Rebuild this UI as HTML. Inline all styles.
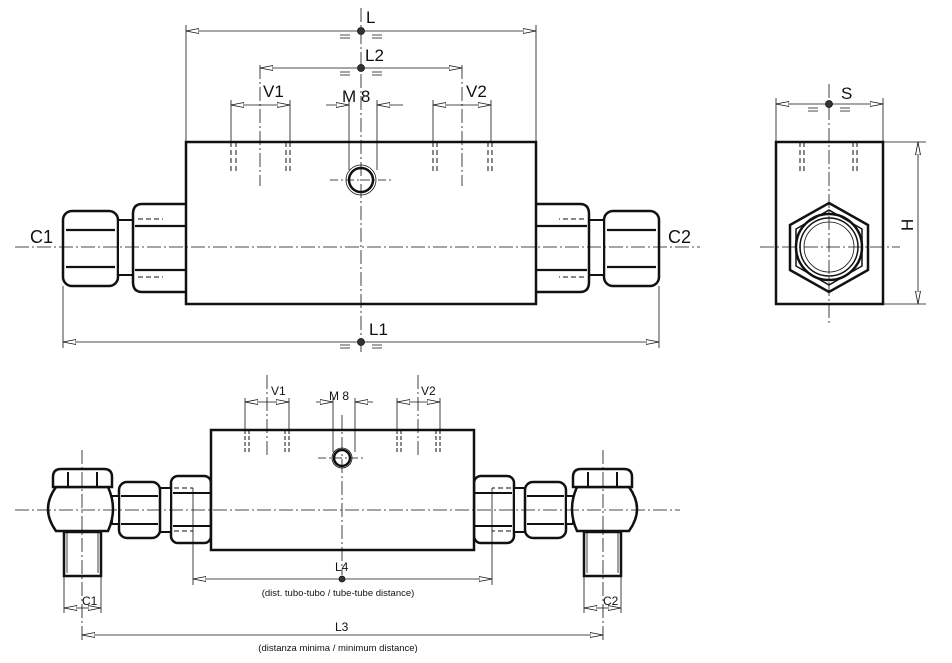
<!DOCTYPE html>
<html><head><meta charset="utf-8"><style>
html,body{margin:0;padding:0;background:#fff}
svg{display:block}
text{font-family:"Liberation Sans",sans-serif;fill:#111}
</style></head><body>
<svg width="952" height="663" viewBox="0 0 952 663" xmlns="http://www.w3.org/2000/svg">
<defs>
<marker id="a" viewBox="0 0 14 6" refX="13" refY="3" markerWidth="14" markerHeight="6" markerUnits="userSpaceOnUse" orient="auto-start-reverse">
<path d="M13,3 L0,0.5 L0,5.5 Z" fill="#fff" stroke="#111" stroke-width="0.8"/>
</marker>
<g id="nutL">
<rect x="63" y="211" width="55" height="75" rx="9" fill="#fff" stroke="#111" stroke-width="2.5"/>
<line x1="66" y1="230" x2="115" y2="230" stroke="#111" stroke-width="2.2"/>
<line x1="66" y1="267" x2="115" y2="267" stroke="#111" stroke-width="2.2"/>
<rect x="118" y="220" width="15" height="55" fill="#fff" stroke="#111" stroke-width="2"/>
<path d="M186,204 H142 Q133,204 133,214 V282 Q133,292 142,292 H186" fill="#fff" stroke="#111" stroke-width="2.5"/>
<line x1="135" y1="226" x2="186" y2="226" stroke="#111" stroke-width="2.2"/>
<line x1="135" y1="270" x2="186" y2="270" stroke="#111" stroke-width="2.2"/>
<line x1="138" y1="219" x2="163" y2="219" stroke="#111" stroke-width="1" stroke-dasharray="5,3"/>
<line x1="138" y1="277" x2="163" y2="277" stroke="#111" stroke-width="1" stroke-dasharray="5,3"/>
</g>
<g id="banL">
<rect x="171" y="476" width="40" height="67" rx="7" fill="#fff" stroke="#111" stroke-width="2.5"/>
<line x1="173" y1="493" x2="211" y2="493" stroke="#111" stroke-width="2"/>
<line x1="173" y1="526" x2="211" y2="526" stroke="#111" stroke-width="2"/>
<rect x="160" y="488" width="11" height="44" fill="#fff" stroke="#111" stroke-width="2"/>
<rect x="119" y="482" width="41" height="56" rx="8" fill="#fff" stroke="#111" stroke-width="2.5"/>
<line x1="121" y1="496" x2="158" y2="496" stroke="#111" stroke-width="2"/>
<line x1="121" y1="524" x2="158" y2="524" stroke="#111" stroke-width="2"/>
<rect x="112" y="496" width="7" height="28" fill="#fff" stroke="#111" stroke-width="2"/>
<path d="M56,487 H108 Q118,509 108,531 H56 Q40,509 56,487 Z" fill="#fff" stroke="#111" stroke-width="2.5"/>
<path d="M53,487 V477 Q53,469 61,469 H104 Q112,469 112,477 V487 Z" fill="#fff" stroke="#111" stroke-width="2.5"/>
<line x1="68" y1="472" x2="68" y2="487" stroke="#111" stroke-width="2"/>
<line x1="97" y1="472" x2="97" y2="487" stroke="#111" stroke-width="2"/>
<rect x="64" y="532" width="37" height="44" fill="#fff" stroke="#111" stroke-width="2.5"/>
<line x1="67" y1="532" x2="67" y2="573" stroke="#111" stroke-width="0.8"/>
<line x1="98" y1="532" x2="98" y2="573" stroke="#111" stroke-width="0.8"/>
<line x1="174" y1="488" x2="193" y2="488" stroke="#111" stroke-width="1" stroke-dasharray="5,3"/>
<line x1="174" y1="531" x2="193" y2="531" stroke="#111" stroke-width="1" stroke-dasharray="5,3"/>
</g>
</defs>

<g stroke="#111" fill="none">
<use href="#nutL"/>
<use href="#nutL" transform="translate(722,0) scale(-1,1)"/>
<rect x="186" y="142" width="350" height="162" fill="#fff" stroke-width="2.5"/>
<circle cx="361" cy="180" r="15" stroke-width="0.8"/>
<circle cx="361" cy="180" r="12" stroke-width="2.5"/>
<line x1="15" y1="247" x2="700" y2="247" stroke-width="0.8" stroke-dasharray="14,3,2,3"/>
<line x1="361" y1="8" x2="361" y2="352" stroke-width="0.8" stroke-dasharray="14,3,2,3"/>
<line x1="330" y1="180" x2="392" y2="180" stroke-width="0.8" stroke-dasharray="8,3,2,3"/>
<g stroke-width="1" stroke-dasharray="5,3">
<line x1="231" y1="142" x2="231" y2="172"/><line x1="236" y1="142" x2="236" y2="172"/>
<line x1="286" y1="142" x2="286" y2="172"/><line x1="290" y1="142" x2="290" y2="172"/>
<line x1="433" y1="142" x2="433" y2="172"/><line x1="437" y1="142" x2="437" y2="172"/>
<line x1="488" y1="142" x2="488" y2="172"/><line x1="492" y1="142" x2="492" y2="172"/>
</g>
<line x1="260" y1="65" x2="260" y2="186" stroke-width="0.8" stroke-dasharray="14,3,2,3"/>
<line x1="462" y1="65" x2="462" y2="186" stroke-width="0.8" stroke-dasharray="14,3,2,3"/>
<g stroke-width="0.8">
<line x1="186" y1="25" x2="186" y2="142"/><line x1="536" y1="25" x2="536" y2="142"/>
<line x1="231" y1="100" x2="231" y2="142"/><line x1="290" y1="100" x2="290" y2="142"/>
<line x1="433" y1="100" x2="433" y2="142"/><line x1="491" y1="100" x2="491" y2="142"/>
<line x1="349" y1="100" x2="349" y2="170"/><line x1="377" y1="100" x2="377" y2="170"/>
<line x1="63" y1="286" x2="63" y2="348"/><line x1="659" y1="286" x2="659" y2="348"/>
<line x1="186" y1="31" x2="536" y2="31" marker-start="url(#a)" marker-end="url(#a)"/>
<line x1="260" y1="68" x2="462" y2="68" marker-start="url(#a)" marker-end="url(#a)"/>
<line x1="231" y1="105" x2="290" y2="105" marker-start="url(#a)" marker-end="url(#a)"/>
<line x1="433" y1="105" x2="491" y2="105" marker-start="url(#a)" marker-end="url(#a)"/>
<line x1="326" y1="105" x2="349" y2="105" marker-end="url(#a)"/>
<line x1="403" y1="105" x2="377" y2="105" marker-end="url(#a)"/>
<line x1="63" y1="342" x2="659" y2="342" marker-start="url(#a)" marker-end="url(#a)"/>
<path d="M340,35H350M340,38H350M372,35H382M372,38H382"/>
<path d="M340,72H350M340,75H350M372,72H382M372,75H382"/>
<path d="M340,345H350M340,348H350M372,345H382M372,348H382"/>
<path d="M808,108H818M808,111H818M840,108H850M840,111H850"/>
</g>
<circle cx="361" cy="31" r="3.5" fill="#333" stroke-width="0.8"/>
<circle cx="361" cy="68" r="3.5" fill="#333" stroke-width="0.8"/>
<circle cx="361" cy="342" r="3.5" fill="#333" stroke-width="0.8"/>

<rect x="776" y="142" width="107" height="162" fill="#fff" stroke-width="2.5"/>
<polygon points="829,203 868,225 868,270 829,292 790,270 790,225" stroke-width="2.5"/>
<polygon points="829,210 862,229 862,266 829,285 796,266 796,229" stroke-width="1.5"/>
<circle cx="829" cy="247" r="33" stroke-width="2.5"/>
<circle cx="829" cy="247" r="29" stroke-width="1.5"/>
<circle cx="829" cy="247" r="25" stroke-width="0.8"/>
<line x1="760" y1="247" x2="900" y2="247" stroke-width="0.8" stroke-dasharray="14,3,2,3"/>
<line x1="829" y1="84" x2="829" y2="326" stroke-width="0.8" stroke-dasharray="14,3,2,3"/>
<g stroke-width="1" stroke-dasharray="5,3">
<line x1="800" y1="142" x2="800" y2="172"/><line x1="804" y1="142" x2="804" y2="172"/>
<line x1="853" y1="142" x2="853" y2="172"/><line x1="857" y1="142" x2="857" y2="172"/>
</g>
<g stroke-width="0.8">
<line x1="776" y1="98" x2="776" y2="142"/><line x1="883" y1="98" x2="883" y2="142"/>
<line x1="776" y1="104" x2="883" y2="104" marker-start="url(#a)" marker-end="url(#a)"/>
<line x1="883" y1="142" x2="926" y2="142"/><line x1="883" y1="304" x2="926" y2="304"/>
<line x1="918" y1="142" x2="918" y2="304" marker-start="url(#a)" marker-end="url(#a)"/>
</g>
<circle cx="829" cy="104" r="3.5" fill="#333" stroke-width="0.8"/>

<use href="#banL"/>
<use href="#banL" transform="translate(685,0) scale(-1,1)"/>
<rect x="211" y="430" width="263" height="120" fill="#fff" stroke-width="2.5"/>
<circle cx="342" cy="458" r="10" stroke-width="0.8"/>
<circle cx="342" cy="458" r="8" stroke-width="2.5"/>
<line x1="15" y1="510" x2="680" y2="510" stroke-width="0.8" stroke-dasharray="14,3,2,3"/>
<line x1="342" y1="415" x2="342" y2="575" stroke-width="0.8" stroke-dasharray="14,3,2,3"/>
<line x1="318" y1="458" x2="366" y2="458" stroke-width="0.8" stroke-dasharray="8,3,2,3"/>
<line x1="82" y1="450" x2="82" y2="640" stroke-width="0.8" stroke-dasharray="14,3,2,3"/>
<line x1="603" y1="450" x2="603" y2="640" stroke-width="0.8" stroke-dasharray="14,3,2,3"/>
<line x1="267" y1="375" x2="267" y2="458" stroke-width="0.8" stroke-dasharray="14,3,2,3"/>
<line x1="418" y1="375" x2="418" y2="458" stroke-width="0.8" stroke-dasharray="14,3,2,3"/>
<g stroke-width="1" stroke-dasharray="4,2">
<line x1="245" y1="430" x2="245" y2="452"/><line x1="249" y1="430" x2="249" y2="452"/>
<line x1="285" y1="430" x2="285" y2="452"/><line x1="289" y1="430" x2="289" y2="452"/>
<line x1="397" y1="430" x2="397" y2="452"/><line x1="401" y1="430" x2="401" y2="452"/>
<line x1="436" y1="430" x2="436" y2="452"/><line x1="440" y1="430" x2="440" y2="452"/>
</g>
<g stroke-width="0.8">
<line x1="245" y1="398" x2="245" y2="430"/><line x1="289" y1="398" x2="289" y2="430"/>
<line x1="397" y1="398" x2="397" y2="430"/><line x1="440" y1="398" x2="440" y2="430"/>
<line x1="333" y1="398" x2="333" y2="452"/><line x1="355" y1="398" x2="355" y2="452"/>
<line x1="245" y1="402" x2="289" y2="402" marker-start="url(#a)" marker-end="url(#a)"/>
<line x1="397" y1="402" x2="440" y2="402" marker-start="url(#a)" marker-end="url(#a)"/>
<line x1="316" y1="402" x2="333" y2="402" marker-end="url(#a)"/>
<line x1="373" y1="402" x2="355" y2="402" marker-end="url(#a)"/>
<line x1="193" y1="488" x2="193" y2="585"/><line x1="492" y1="488" x2="492" y2="585"/>
<line x1="193" y1="579" x2="492" y2="579" marker-start="url(#a)" marker-end="url(#a)"/>
<line x1="64" y1="576" x2="64" y2="613"/><line x1="101" y1="576" x2="101" y2="613"/>
<line x1="64" y1="608" x2="82" y2="608" marker-start="url(#a)"/><line x1="82" y1="608" x2="101" y2="608" marker-end="url(#a)"/>
<line x1="584" y1="576" x2="584" y2="613"/><line x1="621" y1="576" x2="621" y2="613"/>
<line x1="584" y1="608" x2="603" y2="608" marker-start="url(#a)"/><line x1="603" y1="608" x2="621" y2="608" marker-end="url(#a)"/>
<line x1="82" y1="635" x2="603" y2="635" marker-start="url(#a)" marker-end="url(#a)"/>
</g>
<circle cx="342" cy="579" r="3" fill="#333" stroke-width="0.8"/>
</g>

<g font-size="17">
<text x="366" y="23">L</text>
<text x="365" y="61">L2</text>
<text x="263" y="97">V1</text>
<text x="466" y="97">V2</text>
<text x="342" y="102">M 8</text>
<text x="369" y="335">L1</text>
<text x="30" y="243" font-size="18">C1</text>
<text x="668" y="243" font-size="18">C2</text>
<text x="841" y="99">S</text>
<text x="0" y="0" transform="translate(913,231) rotate(-90)">H</text>
</g>
<g font-size="12">
<text x="271" y="395">V1</text>
<text x="421" y="395">V2</text>
<text x="329" y="400">M 8</text>
<text x="335" y="571">L4</text>
<text x="335" y="631">L3</text>
<text x="82" y="605">C1</text>
<text x="603" y="605">C2</text>
</g>
<g font-size="9.5" text-anchor="middle">
<text x="338" y="596">(dist. tubo-tubo / tube-tube distance)</text>
<text x="338" y="651">(distanza minima / minimum distance)</text>
</g>
</svg>
</body></html>
